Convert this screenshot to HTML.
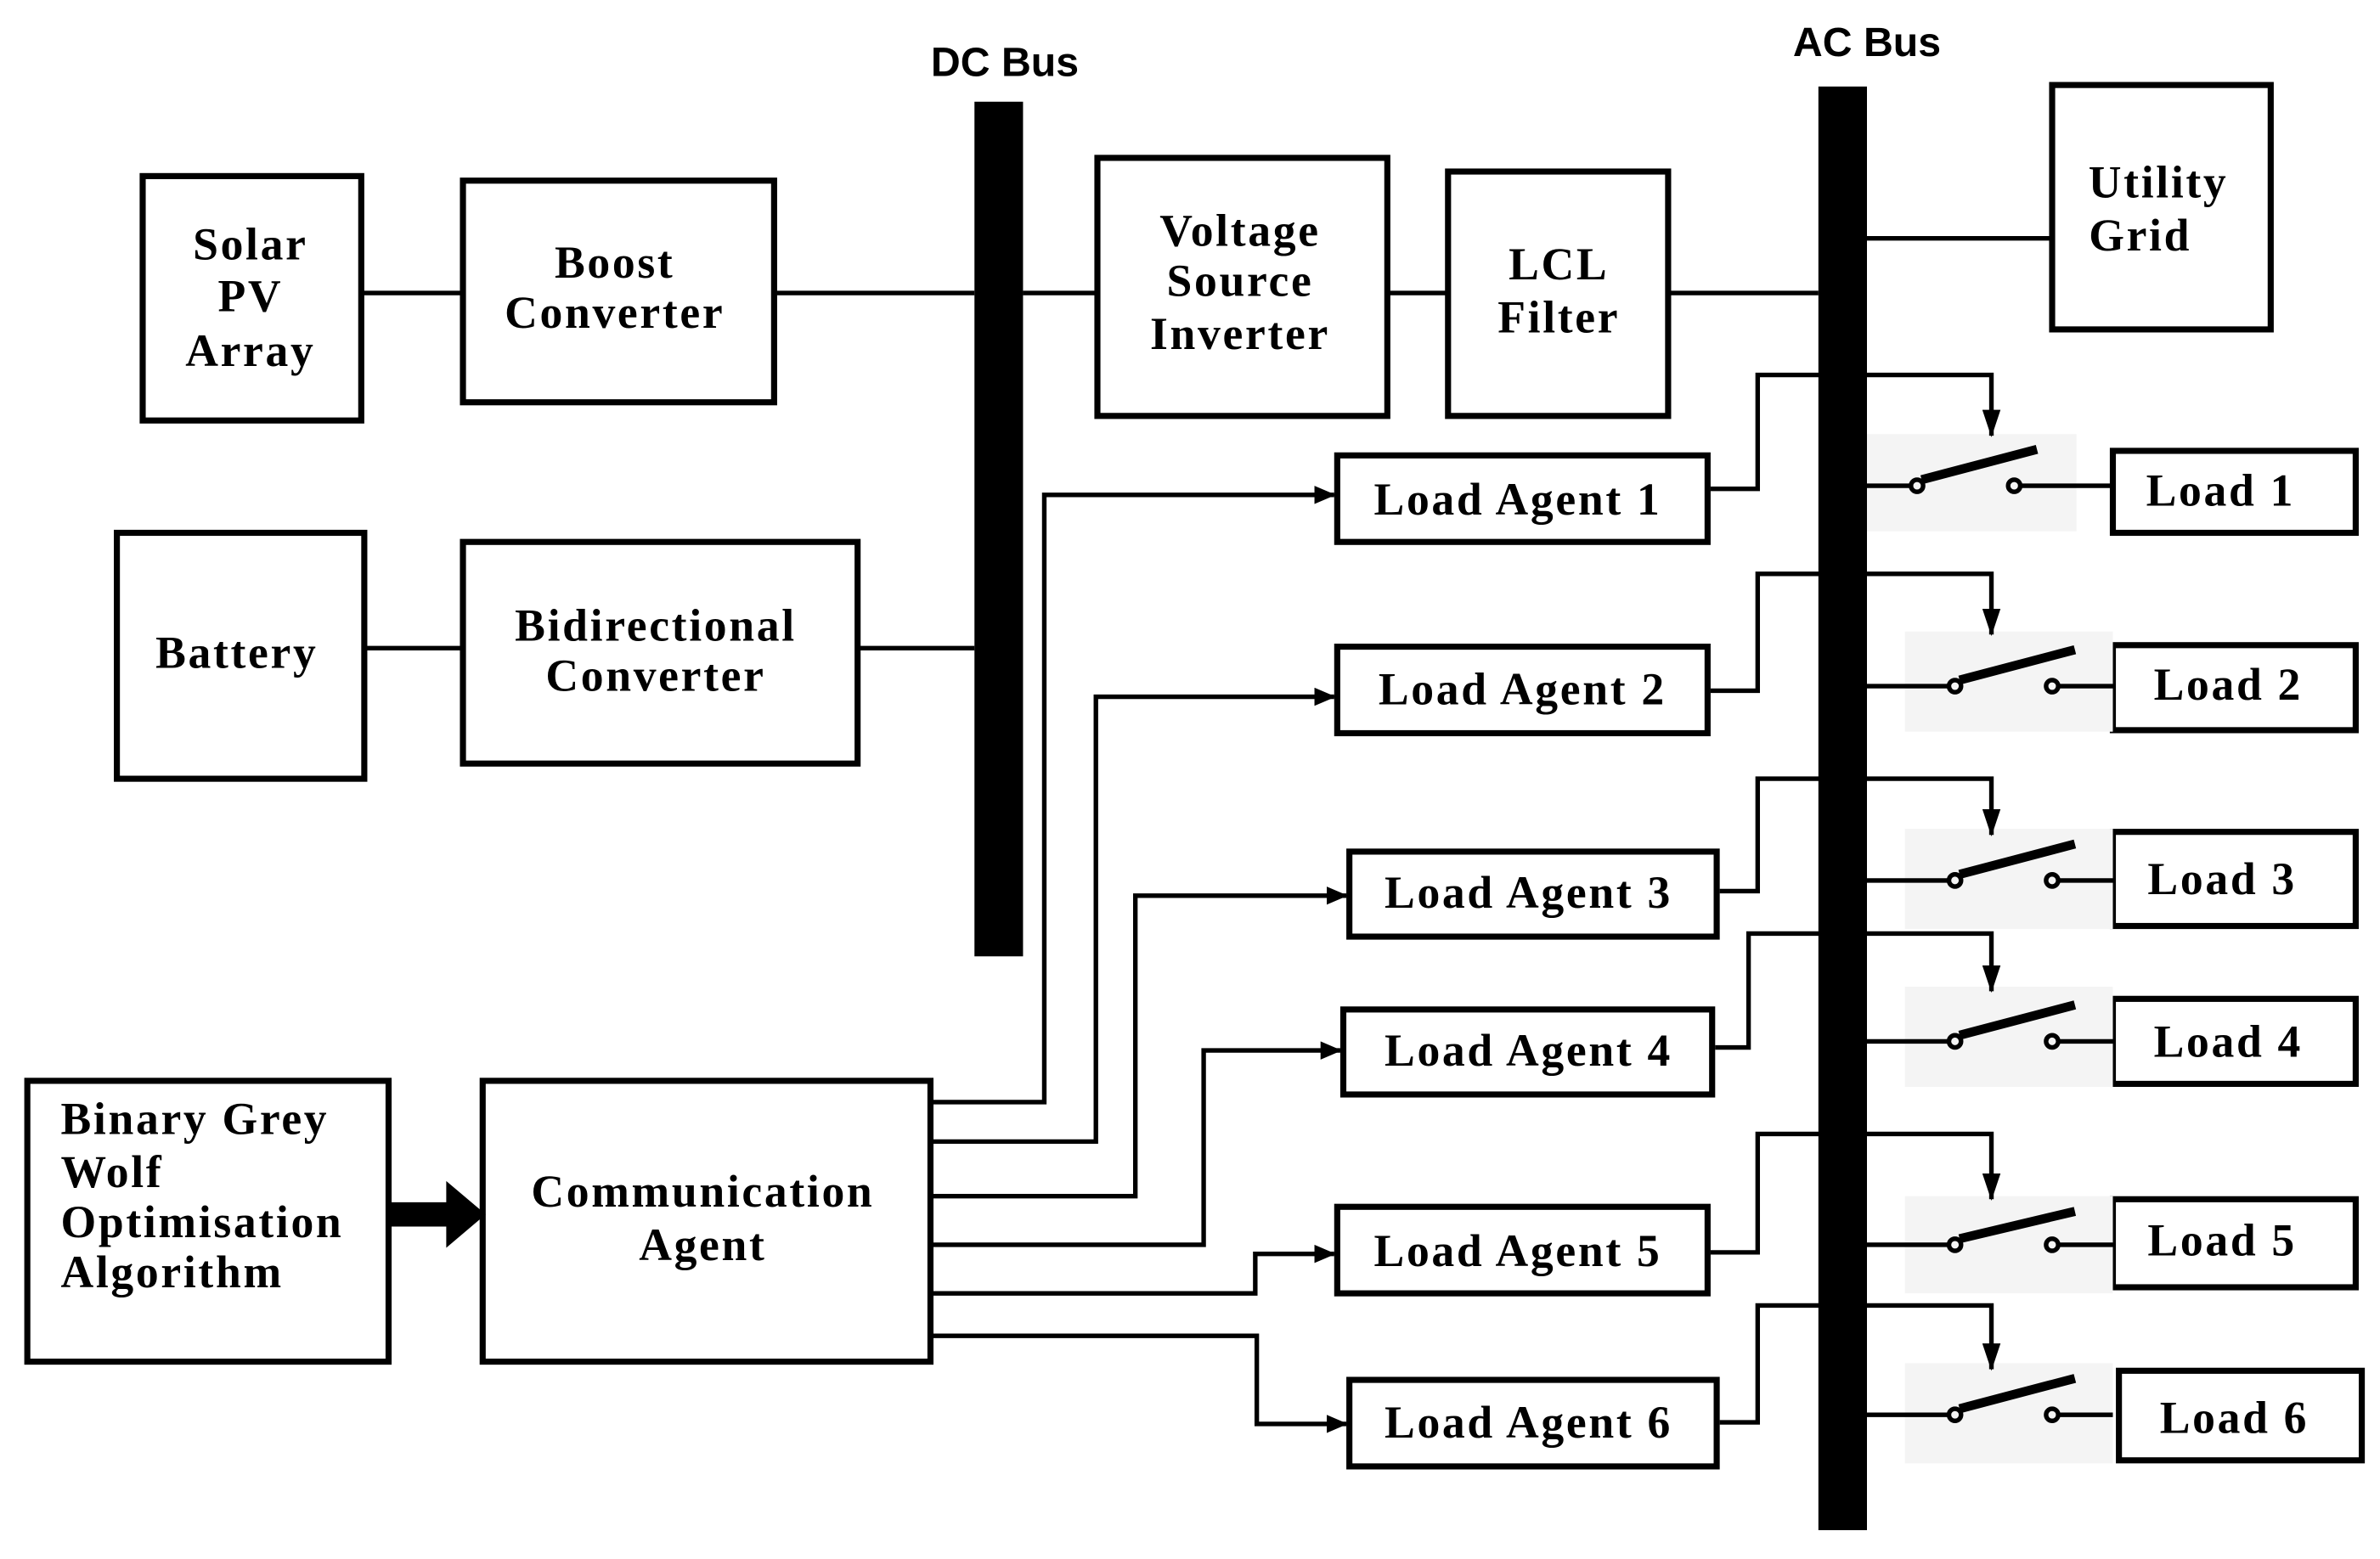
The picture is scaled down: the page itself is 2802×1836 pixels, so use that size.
<!DOCTYPE html>
<html><head><meta charset="utf-8"><style>
html,body{margin:0;padding:0;background:#fff;}
svg{display:block;}
.t{font-family:"Liberation Serif",serif;font-weight:bold;font-size:30px;letter-spacing:1.5px;fill:#000;text-anchor:middle;}
.b{font-family:"Liberation Sans",sans-serif;font-weight:bold;font-size:27px;fill:#000;text-anchor:middle;}
</style></head><body>
<svg width="2802" height="1836" viewBox="0 0 1568 1027" preserveAspectRatio="none" xmlns="http://www.w3.org/2000/svg">
<defs><marker id="a" markerWidth="14" markerHeight="12" refX="13" refY="6" orient="auto" markerUnits="userSpaceOnUse"><path d="M0,0 L14,6 L0,12z" fill="#000"/></marker>
<marker id="v" markerWidth="18" markerHeight="12" refX="17" refY="6" orient="auto" markerUnits="userSpaceOnUse"><path d="M0,0 L18,6 L0,12z" fill="#000"/></marker></defs>
<g fill="none" stroke="#000" stroke-width="4">
<rect x="94" y="116" width="144" height="161"/>
<rect x="305" y="119" width="205" height="146"/>
<rect x="723" y="104" width="191" height="170"/>
<rect x="954" y="113" width="145" height="161"/>
<rect x="1352" y="56" width="144" height="161"/>
<rect x="77" y="351" width="163" height="162"/>
<rect x="305" y="357" width="260" height="146"/>
<rect x="18" y="712" width="238" height="185"/>
<rect x="318" y="712" width="295" height="185"/>
<rect x="881" y="300" width="244" height="57"/>
<rect x="881" y="426" width="244" height="57"/>
<rect x="889" y="561" width="242" height="56"/>
<rect x="885" y="665" width="243" height="56"/>
<rect x="881" y="795" width="244" height="57"/>
<rect x="889" y="909" width="242" height="57"/>
<rect x="1392" y="297" width="160" height="54"/>
<rect x="1392" y="425" width="160" height="56"/>
<rect x="1392" y="548" width="160" height="62"/>
<rect x="1392" y="658" width="160" height="56"/>
<rect x="1392" y="790" width="160" height="58"/>
<rect x="1396" y="903" width="160" height="59"/>
</g>
<rect x="642" y="67" width="32" height="563" fill="#000"/>
<rect x="1198" y="57" width="32" height="951" fill="#000"/>
<g fill="#f4f4f4">
<rect x="1230" y="286" width="138" height="64"/>
<rect x="1255" y="416" width="137" height="66"/>
<rect x="1255" y="546" width="137" height="66"/>
<rect x="1255" y="650" width="137" height="66"/>
<rect x="1255" y="788" width="137" height="64"/>
<rect x="1255" y="898" width="137" height="66"/>
</g>
<g fill="none" stroke="#000" stroke-width="3">
<path d="M238 193H305M510 193H642M674 193H723M914 193H954M1099 193H1198M1230 157H1352M240 427H305M565 427H642"/>
<path d="M613 726H688V326H879" marker-end="url(#a)"/>
<path d="M613 752H722V459H879" marker-end="url(#a)"/>
<path d="M613 788H748V590H887" marker-end="url(#a)"/>
<path d="M613 820H793V692H883" marker-end="url(#a)"/>
<path d="M613 852H827V826H879" marker-end="url(#a)"/>
<path d="M613 880H828V938H887" marker-end="url(#a)"/>
<path d="M1127 322H1158V247H1312V287" marker-end="url(#v)"/>
<path d="M1127 455H1158V378H1312V418" marker-end="url(#v)"/>
<path d="M1133 587H1158V513H1312V550" marker-end="url(#v)"/>
<path d="M1130 690H1152V615H1312V653" marker-end="url(#v)"/>
<path d="M1127 825H1158V747H1312V790" marker-end="url(#v)"/>
<path d="M1133 937H1158V860H1312V902" marker-end="url(#v)"/>
</g>
<g fill="none" stroke="#000" stroke-width="3">
<path d="M1230 320H1259M1331 320H1392"/><circle cx="1263" cy="320" r="4"/><circle cx="1327" cy="320" r="4"/>
<path d="M1230 452H1284M1356 452H1392"/><circle cx="1288" cy="452" r="4"/><circle cx="1352" cy="452" r="4"/>
<path d="M1230 580H1284M1356 580H1392"/><circle cx="1288" cy="580" r="4"/><circle cx="1352" cy="580" r="4"/>
<path d="M1230 686H1284M1356 686H1392"/><circle cx="1288" cy="686" r="4"/><circle cx="1352" cy="686" r="4"/>
<path d="M1230 820H1284M1356 820H1392"/><circle cx="1288" cy="820" r="4"/><circle cx="1352" cy="820" r="4"/>
<path d="M1230 932H1284M1356 932H1392"/><circle cx="1288" cy="932" r="4"/><circle cx="1352" cy="932" r="4"/>
</g>
<g stroke="#000" stroke-width="6">
<path d="M1266 316L1342 296M1291 448L1367 428M1291 576L1367 556M1291 682L1367 662M1291 816L1367 798M1291 928L1367 908"/>
</g>
<path d="M256 800H296" stroke="#000" stroke-width="16"/>
<polygon points="294,778 320,800 294,822" fill="#000"/>
<text class="b" x="662" y="50">DC Bus</text>
<text class="b" x="1230" y="37">AC Bus</text>
<text class="t" x="165" y="171">Solar</text><text class="t" x="165" y="205">PV</text><text class="t" x="165" y="241">Array</text>
<text class="t" x="405" y="183">Boost</text><text class="t" x="405" y="216">Converter</text>
<text class="t" x="817" y="162">Voltage</text><text class="t" x="817" y="195">Source</text><text class="t" x="817" y="230">Inverter</text>
<text class="t" x="1027" y="184">LCL</text><text class="t" x="1027" y="219">Filter</text>
<text class="t" x="1422" y="130">Utility</text><text class="t" x="1410" y="165">Grid</text>
<text class="t" x="156" y="440">Battery</text>
<text class="t" x="432" y="422">Bidirectional</text><text class="t" x="432" y="455">Converter</text>
<text class="t" style="text-anchor:start" x="40" y="747">Binary Grey</text><text class="t" style="text-anchor:start" x="40" y="782">Wolf</text><text class="t" style="text-anchor:start" x="40" y="815">Optimisation</text><text class="t" style="text-anchor:start" x="40" y="848">Algorithm</text>
<text class="t" x="463" y="795">Communication</text><text class="t" x="463" y="830">Agent</text>
<text class="t" x="1000" y="339">Load Agent 1</text>
<text class="t" x="1003" y="464">Load Agent 2</text>
<text class="t" x="1007" y="598">Load Agent 3</text>
<text class="t" x="1007" y="702">Load Agent 4</text>
<text class="t" x="1000" y="834">Load Agent 5</text>
<text class="t" x="1007" y="947">Load Agent 6</text>
<text class="t" x="1463" y="333">Load 1</text>
<text class="t" x="1468" y="461">Load 2</text>
<text class="t" x="1464" y="589">Load 3</text>
<text class="t" x="1468" y="696">Load 4</text>
<text class="t" x="1464" y="827">Load 5</text>
<text class="t" x="1472" y="944">Load 6</text>
</svg>
</body></html>
